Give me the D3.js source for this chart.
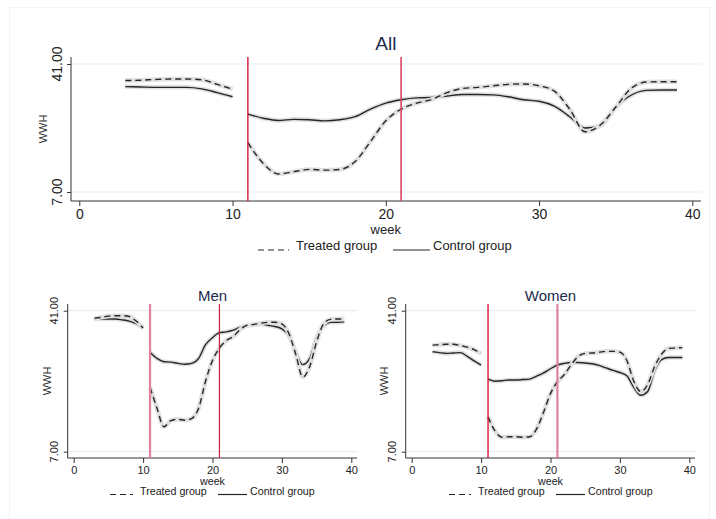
<!DOCTYPE html>
<html>
<head>
<meta charset="UTF-8">
<title>WWH by week</title>
<script src="https://cdn.jsdelivr.net/npm/d3@7"></script>
<style>
  body { margin: 0; background: #fff; }
  svg { display: block; font-family: "Liberation Sans", Arial, sans-serif; }
</style>
</head>
<body>
<div id="chart"></div>
<script>
// weeks covered by the series (gap between 10 and 11)
var weeks = [3,4,5,6,7,8,9,10,11,12,13,14,15,16,17,18,19,20,21,22,23,24,25,26,27,28,29,30,31,32,33,34,35,36,37,38,39];
var xTicks = [0, 10, 20, 30, 40];
var yTicks = [7, 41];
var yTickLabels = ["7.00", "41.00"];
var cutWeeks = [11, 21];

// All
var allTreated = [36.6,36.7,36.9,37.0,37.0,36.8,35.6,34.3,
  20.1,14.6,11.8,12.4,13.0,12.8,13.0,15.1,20.4,25.9,29.0,30.6,31.6,33.4,34.5,34.8,35.2,35.6,35.7,35.2,33.8,29.0,23.0,24.8,29.5,34.5,36.2,36.3,36.3];
var allControl = [35.0,34.9,34.8,34.8,34.8,34.4,33.4,32.3,
  27.7,26.6,26.0,26.3,26.2,25.9,26.2,27.0,29.0,30.6,31.5,32.0,32.1,32.5,32.9,32.9,32.8,32.3,31.5,31.1,29.8,27.0,24.0,24.6,29.5,32.7,34.0,34.1,34.1];
// Men
var menTreated = [39.2,39.4,39.7,39.8,39.8,39.6,38.5,36.8,
  22.5,17.5,13.0,14.5,14.8,14.6,15.0,17.5,24.0,29.0,32.0,33.8,34.8,36.5,37.5,37.7,38.0,38.2,38.2,37.8,35.5,30.5,25.0,27.5,33.5,37.8,38.9,39.0,39.0];
var menControl = [39.0,39.0,39.0,39.0,38.8,38.5,37.9,36.8,
  31.0,29.5,28.7,28.6,28.3,28.1,28.3,29.5,32.8,34.5,35.7,35.9,36.3,37.0,37.4,37.6,37.8,37.5,37.2,36.6,35.0,31.0,28.0,29.5,34.5,37.3,38.2,38.2,38.3];
// Women
var womenTreated = [32.7,32.8,32.9,32.9,32.6,32.2,31.6,30.7,
  15.4,12.0,10.5,10.6,10.6,10.5,10.6,12.5,16.5,21.0,23.9,25.6,28.0,30.0,30.7,30.8,31.0,31.2,31.2,31.0,29.0,24.0,21.5,23.2,27.5,30.5,31.9,32.0,32.1];
var womenControl = [31.1,30.9,30.7,30.8,30.9,30.0,28.9,27.9,
  24.5,24.0,24.1,24.3,24.3,24.4,24.5,25.2,26.0,27.0,27.9,28.3,28.5,28.5,28.4,28.2,27.8,27.2,26.6,26.1,25.3,22.5,20.6,21.5,26.5,29.2,29.7,29.7,29.7];

var W = 716, H = 519;
var svg = d3.select("#chart").append("svg").attr("width", W).attr("height", H);

// faint outer frame
svg.append("rect").attr("x", 9.5).attr("y", 7.5).attr("width", 700).attr("height", 520)
  .attr("fill", "none").attr("stroke", "#f3f3f3");

var panels = [
  { title: "All", treated: allTreated, control: allControl,
    x0: 79.3, x1: 692.3, axL: 71, axR: 701, yTop: 64, yBot: 192, axT: 57, axB: 201,
    tickFont: 14, titleFont: 19, titleY: 50, labFont: 13, weekY: 234, legY: 250, ylabX: 43,
    ytickX: 57, legX: [258, 296, 393, 433], cutColors: ["#d6163f", "#d94466"], cutW: [1.4, 1.6] },
  { title: "Men", treated: menTreated, control: menControl,
    x0: 73.7, x1: 351.3, axL: 67.7, axR: 357, yTop: 310.7, yBot: 451.7, axT: 304, axB: 458,
    tickFont: 11, titleFont: 15, titleY: 301, labFont: 10.7, weekY: 484.5, legY: 494.5, ylabX: 47,
    ytickX: 54, legX: [110, 140, 218, 250], cutColors: ["#e0809a", "#cc1a45"], cutW: [2.2, 1.2] },
  { title: "Women", treated: womenTreated, control: womenControl,
    x0: 411.7, x1: 689.3, axL: 405.7, axR: 695, yTop: 310.7, yBot: 451.7, axT: 304, axB: 458,
    tickFont: 11, titleFont: 15, titleY: 301, labFont: 10.7, weekY: 484.5, legY: 494.5, ylabX: 384,
    ytickX: 392, legX: [449, 478, 556, 588], cutColors: ["#d6163f", "#e0809a"], cutW: [1.4, 2.2] }
];

panels.forEach(drawPanel);

function drawPanel(p) {
  var g = svg.append("g");
  var x = d3.scaleLinear().domain([0, 40]).range([p.x0, p.x1]);
  var y = d3.scaleLinear().domain([7, 41]).range([p.yBot, p.yTop]);

  // grid lines at ticks
  g.selectAll(".grid").data(yTicks).enter().append("line")
    .attr("x1", p.axL).attr("x2", p.axR)
    .attr("y1", function(d) { return y(d); }).attr("y2", function(d) { return y(d); })
    .attr("stroke", "#e6eff0").attr("stroke-width", 1.2);

  // x axis
  var xa = g.append("g").attr("transform", "translate(0," + p.axB + ")")
    .call(d3.axisBottom(x).tickValues(xTicks).tickSize(5).tickPadding(3).tickSizeOuter(0));
  xa.select(".domain").remove();
  xa.selectAll("text").attr("font-size", p.tickFont).attr("fill", "#222").style("font-family", "inherit");
  xa.selectAll("line").attr("stroke", "#333");
  g.append("line").attr("x1", p.axL).attr("x2", p.axR).attr("y1", p.axB).attr("y2", p.axB)
    .attr("stroke", "#333").attr("stroke-width", 1);

  // y axis
  var ya = g.append("g").attr("transform", "translate(" + p.axL + ",0)")
    .call(d3.axisLeft(y).tickValues(yTicks).tickSize(4).tickFormat(function(d, i) { return yTickLabels[i]; }));
  ya.select(".domain").remove();
  ya.selectAll("line").attr("stroke", "#333");
  ya.selectAll("text").remove();
  g.append("line").attr("x1", p.axL).attr("x2", p.axL).attr("y1", p.axT).attr("y2", p.axB)
    .attr("stroke", "#333").attr("stroke-width", 1);
  g.selectAll(".ytl").data(yTicks).enter().append("text")
    .attr("transform", function(d) { return "translate(" + (p.ytickX + p.tickFont * 0.35) + "," + y(d) + ") rotate(-90)"; })
    .attr("text-anchor", "middle").attr("font-size", p.tickFont).attr("fill", "#222")
    .text(function(d, i) { return yTickLabels[i]; });

  // y label
  g.append("text")
    .attr("transform", "translate(" + (p.ylabX + 4) + "," + ((p.axT + p.axB) / 2) + ") rotate(-90)")
    .attr("text-anchor", "middle").attr("font-size", 11).attr("fill", "#333").text("WWH");

  // title
  g.append("text").attr("x", x(20)).attr("y", p.titleY).attr("text-anchor", "middle")
    .attr("font-size", p.titleFont).attr("fill", "#1c2b4d").text(p.title);

  // x label
  g.append("text").attr("x", x(20)).attr("y", p.weekY).attr("text-anchor", "middle")
    .attr("font-size", p.labFont).attr("fill", "#222").text("week");

  // series, drawn in two segments around the break
  var line = d3.line().x(function(d) { return x(d.w); }).y(function(d) { return y(d.v); })
    .curve(d3.curveMonotoneX);
  [[p.control, null], [p.treated, "6,4"]].forEach(function(s) {
    var pts = weeks.map(function(w, i) { return { w: w, v: s[0][i] }; });
    var segs = [pts.filter(function(d) { return d.w <= 10; }), pts.filter(function(d) { return d.w >= 11; })];
    segs.forEach(function(seg) {
      g.append("path").datum(seg).attr("d", line).attr("fill", "none")
        .attr("stroke", "#e0e0e0").attr("stroke-width", 4.5).attr("stroke-linejoin", "round");
    });
    segs.forEach(function(seg) {
      g.append("path").datum(seg).attr("d", line).attr("fill", "none")
        .attr("stroke", "#262626").attr("stroke-width", 1.4)
        .attr("stroke-dasharray", s[1]);
    });
  });

  // cut-off lines
  g.selectAll(".cut").data(cutWeeks).enter().append("line")
    .attr("x1", function(d) { return x(d); }).attr("x2", function(d) { return x(d); })
    .attr("y1", p.axT).attr("y2", p.axB)
    .attr("stroke", function(d, i) { return p.cutColors[i]; })
    .attr("stroke-width", function(d, i) { return p.cutW[i]; });

  // legend
  var lx = p.legX, ly = p.legY;
  g.append("line").attr("x1", lx[0]).attr("x2", lx[1] - 7).attr("y1", ly).attr("y2", ly)
    .attr("stroke", "#262626").attr("stroke-width", 1.2).attr("stroke-dasharray", "6,4");
  g.append("text").attr("x", lx[1]).attr("y", ly).attr("font-size", p.labFont).attr("fill", "#222").text("Treated group");
  g.append("line").attr("x1", lx[2]).attr("x2", lx[3] - 3).attr("y1", ly).attr("y2", ly)
    .attr("stroke", "#262626").attr("stroke-width", 1.2);
  g.append("text").attr("x", lx[3]).attr("y", ly).attr("font-size", p.labFont).attr("fill", "#222").text("Control group");
}
</script>
</body>
</html>
